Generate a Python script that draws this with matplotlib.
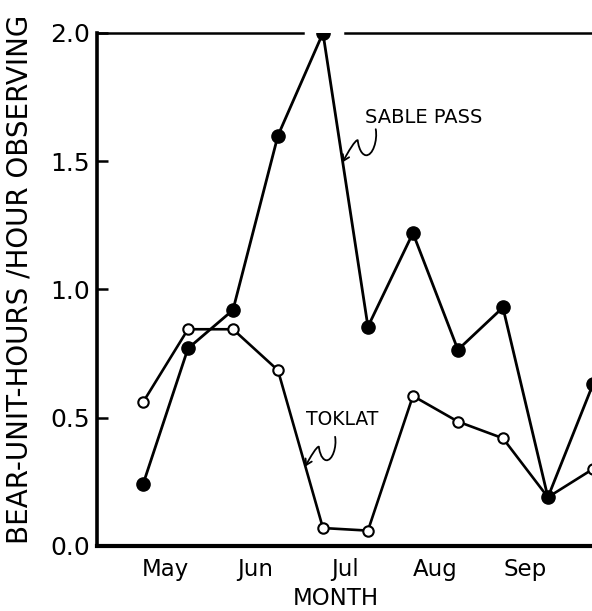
# Bear-unit-hours per hour observing, Sable Pass vs Toklat

import numpy as np
import matplotlib
matplotlib.use('Agg')
import matplotlib.pyplot as plt
from matplotlib.path import Path
from matplotlib.patches import FancyArrowPatch
import matplotlib.transforms as mtransforms

# half-month periods, May (1st half) .. Oct (1st half)
periods = np.arange(11)
month_labels = ['May', 'Jun', 'Jul', 'Aug', 'Sep']
sable_pass = [0.24, 0.77, 0.92, 1.60, 2.00, 0.855, 1.22, 0.765, 0.93, 0.19, 0.63]
toklat = [0.56, 0.845, 0.845, 0.685, 0.07, 0.06, 0.585, 0.485, 0.42, 0.19, 0.30]
y_ticks = [0.0, 0.5, 1.0, 1.5, 2.0]

plt.rcParams['font.family'] = ['DejaVu Sans']

fig = plt.figure(figsize=(5.92, 6.11), dpi=100)
ax = fig.add_axes([0.164, 0.1064, 0.836, 0.8396])

# STEP 1: DATA LINES ---------------------------------------------------------#
ax.plot(periods, toklat, '-o', color='black', lw=1.9, ms=7.5,
        mfc='white', mec='black', mew=1.5, zorder=3)
ax.plot(periods, sable_pass, '-o', color='black', lw=2.0, ms=9.5,
        mfc='black', mec='black', zorder=4)

# STEP 2: AXES ---------------------------------------------------------------#
ax.set_xticks(np.arange(len(month_labels)) * 2 + 0.5)
ax.set_xticklabels(month_labels, fontsize=16.5)
ax.tick_params(axis='x', length=0, pad=9)

ax.set_yticks(y_ticks)
ax.set_yticklabels(['%.1f' % v for v in y_ticks], fontsize=18)
ax.tick_params(axis='y', direction='in', length=8, width=1.8, pad=5)

ax.set_xlim(-1.02, 9.98)
ax.set_ylim(0.0, 2.0)

ax.spines['right'].set_visible(False)
ax.spines['top'].set_visible(False)
ax.spines['left'].set_linewidth(2.6)
ax.spines['bottom'].set_linewidth(3)

# broken top frame around the July peak
ax.axhline(2.0, xmin=0.0, xmax=0.416, color='black', lw=1.8, clip_on=False)
ax.axhline(2.0, xmin=0.501, xmax=1.0, color='black', lw=1.8, clip_on=False)

ax.set_xlabel('MONTH', fontsize=16.5, va='bottom')
ax.xaxis.set_label_coords(0.483, -0.124)
ax.set_ylabel('BEAR-UNIT-HOURS /HOUR OBSERVING', fontsize=20)
ax.yaxis.set_label_coords(-0.128, 0.52)


# STEP 3: LABELS WITH CURLY ARROWS -------------------------------------------#
def curly_arrow(x_tip, y_tip, s=1.0):
    # squiggle drawn in pixels relative to the arrow tip
    pts = np.array([(33, 33), (35, 22), (30, 6), (23, 7),
                    (17, 8), (15, 20), (15, 22),
                    (13, 23), (5, 10), (0, 0)]) * s / 100.0
    codes = [Path.MOVETO] + [Path.CURVE4] * 9
    tr = fig.dpi_scale_trans + mtransforms.ScaledTranslation(x_tip, y_tip, ax.transData)
    arrow = FancyArrowPatch(path=Path(pts, codes), transform=tr,
                            arrowstyle='->,head_length=4,head_width=2.5',
                            color='black', lw=1.3, zorder=5)
    ax.add_patch(arrow)


ax.text(6.24, 1.649, 'SABLE PASS', fontsize=14, ha='center', va='baseline')
curly_arrow(4.44, np.interp(4.44, periods, sable_pass))

ax.text(4.42, 0.472, 'TOKLAT', fontsize=13.5, ha='center', va='baseline')
curly_arrow(3.61, np.interp(3.61, periods, toklat), s=0.9)

plt.savefig('out.png', dpi=100)
